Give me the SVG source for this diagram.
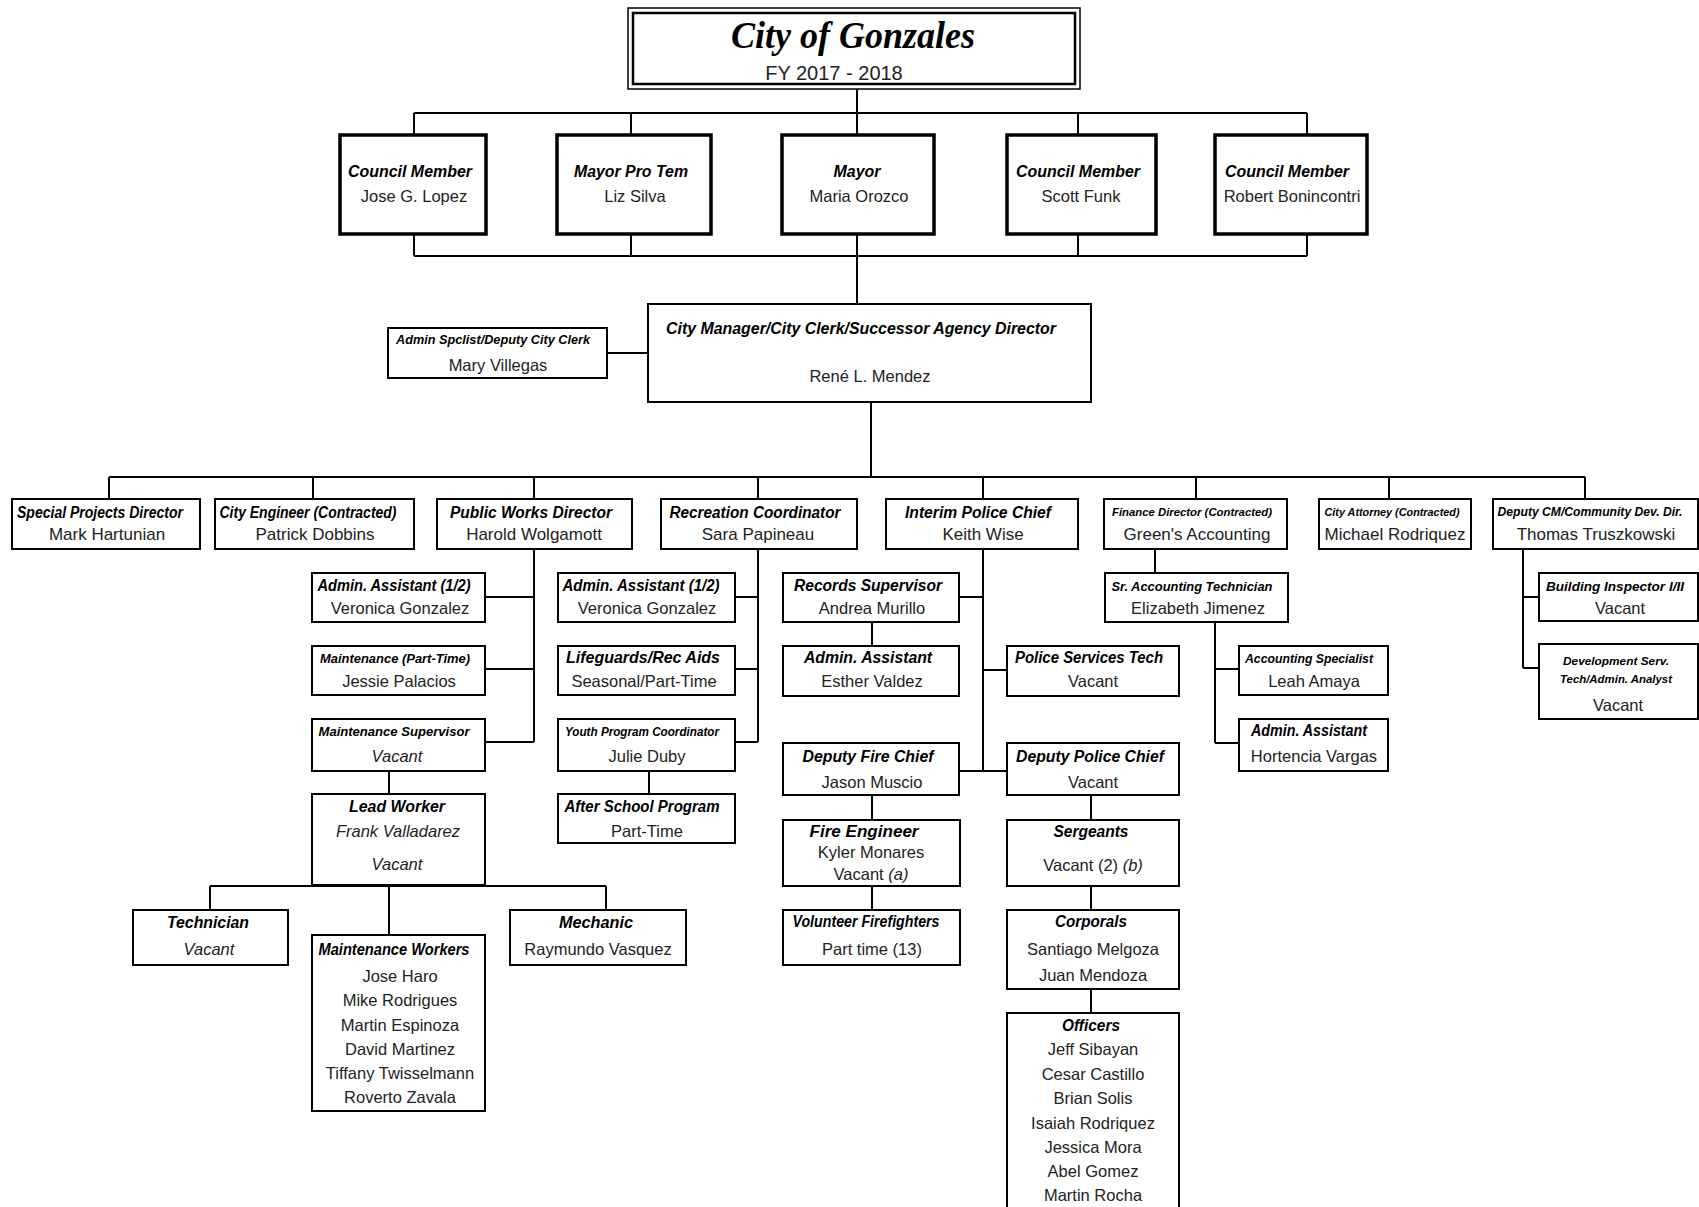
<svg xmlns="http://www.w3.org/2000/svg" width="1699" height="1207" viewBox="0 0 1699 1207">
<style>
.b{fill:#fff;stroke:#000;stroke-width:2}
.bk{fill:#fff;stroke:#000;stroke-width:3.5}
.t{font-family:"Liberation Sans",Arial,sans-serif;font-weight:bold;font-style:italic;font-size:16px;text-anchor:middle;fill:#000}
.s{font-size:12.5px}
.xs{font-size:11px}
.n{font-family:"Liberation Sans",Arial,sans-serif;font-size:16.5px;text-anchor:middle;fill:#222}
.r2{font-size:17px}
.i{font-style:italic}
#connectors path{stroke:#000;stroke-width:2;fill:none}
</style>
<rect width="1699" height="1207" fill="#fff"/>
<g id="connectors">
<path d="M857 89V113M414 113H1307M414 113V135M631 113V135M857 113V135M1078 113V135M1307 113V135"/>
<path d="M414 234V256M631 234V256M857 234V304M1078 234V256M1307 234V256M414 256H1307"/>
<path d="M607 353H648M871 402V477M109 477H1585"/>
<path d="M109 477V499M313 477V499M534 477V499M758 477V499M983 477V499M1196 477V499M1389 477V499M1585 477V499"/>
<path d="M534 549V742M485 597H534M485 669H534M485 742H534M389 771V794M210 886H606M210 886V910M389 886V935M606 886V910"/>
<path d="M758 549V742M735 597H758M735 669H758M735 742H758M649 771V794"/>
<path d="M983 549V771M959 597H983M983 670H1007M959 771H1007M872 622V646M872 795V820M872 886V910M1091 795V820M1091 886V910M1091 989V1013"/>
<path d="M1155 549V573M1215 622V743M1215 669H1239M1215 743H1239"/>
<path d="M1523 549V668M1523 597H1539M1523 668H1539"/>
</g>
<g id="title">
<rect x="628" y="8" width="452" height="81" fill="#fff" stroke="#000" stroke-width="1.5"/>
<rect x="633" y="13" width="442" height="71" fill="none" stroke="#000" stroke-width="2.5"/>
<text x="853" y="48" font-family="Liberation Serif,serif" font-weight="bold" font-style="italic" font-size="38" text-anchor="middle" textLength="244" lengthAdjust="spacingAndGlyphs">City of Gonzales</text>
<text x="834" y="80" font-family="Liberation Sans,sans-serif" font-size="20" text-anchor="middle" fill="#222">FY 2017 - 2018</text>
</g>
<g id="council1"><rect class="bk" x="340" y="135" width="146" height="99"/><text class="t" x="410" y="177" textLength="124" lengthAdjust="spacingAndGlyphs">Council Member</text><text class="n" x="414" y="202">Jose G. Lopez</text></g>
<g id="mayorprotem"><rect class="bk" x="557" y="135" width="154" height="99"/><text class="t" x="631" y="177" textLength="114" lengthAdjust="spacingAndGlyphs">Mayor Pro Tem</text><text class="n" x="635" y="202">Liz Silva</text></g>
<g id="mayor"><rect class="bk" x="782" y="135" width="152" height="99"/><text class="t" x="857" y="177" textLength="47" lengthAdjust="spacingAndGlyphs">Mayor</text><text class="n" x="859" y="202">Maria Orozco</text></g>
<g id="council4"><rect class="bk" x="1007" y="135" width="149" height="99"/><text class="t" x="1078" y="177" textLength="124" lengthAdjust="spacingAndGlyphs">Council Member</text><text class="n" x="1081" y="202">Scott Funk</text></g>
<g id="council5"><rect class="bk" x="1215" y="135" width="152" height="99"/><text class="t" x="1287" y="177" textLength="124" lengthAdjust="spacingAndGlyphs">Council Member</text><text class="n" x="1292" y="202" font-size="17">Robert Bonincontri</text></g>
<g id="citymanager"><rect class="b" x="648" y="304" width="443" height="98"/><text class="t" x="861" y="334" textLength="390" lengthAdjust="spacingAndGlyphs">City Manager/City Clerk/Successor Agency Director</text><text class="n" x="870" y="382" font-size="18.5">René L. Mendez</text></g>
<g id="adminspclist"><rect class="b" x="388" y="328" width="219" height="50"/><text class="t s" x="493" y="344" textLength="194" lengthAdjust="spacingAndGlyphs">Admin Spclist/Deputy City Clerk</text><text class="n" x="498" y="371" font-size="17">Mary Villegas</text></g>
<g id="specialprojects"><rect class="b" x="12" y="499" width="188" height="50"/><text class="t" x="100" y="518" textLength="166" lengthAdjust="spacingAndGlyphs">Special Projects Director</text><text class="n r2" x="107" y="540">Mark Hartunian</text></g>
<g id="cityengineer"><rect class="b" x="215" y="499" width="199" height="50"/><text class="t" x="308" y="518" textLength="177" lengthAdjust="spacingAndGlyphs">City Engineer (Contracted)</text><text class="n r2" x="315" y="540">Patrick Dobbins</text></g>
<g id="publicworks"><rect class="b" x="437" y="499" width="195" height="50"/><text class="t" x="531" y="518" textLength="162" lengthAdjust="spacingAndGlyphs">Public Works Director</text><text class="n r2" x="534" y="540">Harold Wolgamott</text></g>
<g id="recreation"><rect class="b" x="661" y="499" width="196" height="50"/><text class="t" x="755" y="518" textLength="171" lengthAdjust="spacingAndGlyphs">Recreation Coordinator</text><text class="n r2" x="758" y="540">Sara Papineau</text></g>
<g id="policechief"><rect class="b" x="886" y="499" width="192" height="50"/><text class="t" x="978" y="518" textLength="146" lengthAdjust="spacingAndGlyphs">Interim Police Chief</text><text class="n r2" x="983" y="540">Keith Wise</text></g>
<g id="finance"><rect class="b" x="1104" y="499" width="183" height="50"/><text class="t xs" x="1192" y="516" textLength="160" lengthAdjust="spacingAndGlyphs">Finance Director (Contracted)</text><text class="n r2" x="1197" y="540">Green's Accounting</text></g>
<g id="attorney"><rect class="b" x="1319" y="499" width="152" height="50"/><text class="t xs" x="1392" y="516" textLength="135" lengthAdjust="spacingAndGlyphs">City Attorney (Contracted)</text><text class="n r2" x="1395" y="540">Michael Rodriquez</text></g>
<g id="deputycm"><rect class="b" x="1493" y="499" width="205" height="50"/><text class="t s" x="1590" y="516" textLength="185" lengthAdjust="spacingAndGlyphs">Deputy CM/Community Dev. Dir.</text><text class="n r2" x="1596" y="540">Thomas Truszkowski</text></g>
<g id="pw-admin"><rect class="b" x="312" y="573" width="173" height="49"/><text class="t" x="394" y="591" textLength="153" lengthAdjust="spacingAndGlyphs">Admin. Assistant (1/2)</text><text class="n" x="400" y="614">Veronica Gonzalez</text></g>
<g id="pw-maintpt"><rect class="b" x="312" y="646" width="173" height="49"/><text class="t s" x="395" y="663" textLength="150" lengthAdjust="spacingAndGlyphs">Maintenance (Part-Time)</text><text class="n" x="399" y="687">Jessie Palacios</text></g>
<g id="pw-maintsup"><rect class="b" x="312" y="719" width="173" height="52"/><text class="t s" x="394" y="736" font-size="13.5" textLength="151" lengthAdjust="spacingAndGlyphs">Maintenance Supervisor</text><text class="n i" x="397" y="762">Vacant</text></g>
<g id="pw-leadworker"><rect class="b" x="312" y="794" width="173" height="91"/><text class="t" x="397" y="812" textLength="96" lengthAdjust="spacingAndGlyphs">Lead Worker</text><text class="n i" x="398" y="837">Frank Valladarez</text><text class="n i" x="397" y="870">Vacant</text></g>
<g id="pw-technician"><rect class="b" x="133" y="910" width="155" height="55"/><text class="t" x="208" y="928" textLength="82" lengthAdjust="spacingAndGlyphs">Technician</text><text class="n i" x="209" y="955">Vacant</text></g>
<g id="pw-maintworkers"><rect class="b" x="312" y="935" width="173" height="176"/><text class="t" x="394" y="955" font-size="14" textLength="151" lengthAdjust="spacingAndGlyphs">Maintenance Workers</text><text class="n" x="400" y="982">Jose Haro</text><text class="n" x="400" y="1006">Mike Rodrigues</text><text class="n" x="400" y="1031">Martin Espinoza</text><text class="n" x="400" y="1055">David Martinez</text><text class="n" x="400" y="1079">Tiffany Twisselmann</text><text class="n" x="400" y="1103">Roverto Zavala</text></g>
<g id="pw-mechanic"><rect class="b" x="510" y="910" width="176" height="55"/><text class="t" x="596" y="928" textLength="74" lengthAdjust="spacingAndGlyphs">Mechanic</text><text class="n" x="598" y="955">Raymundo Vasquez</text></g>
<g id="rec-admin"><rect class="b" x="558" y="573" width="177" height="49"/><text class="t" x="641" y="591" textLength="157" lengthAdjust="spacingAndGlyphs">Admin. Assistant (1/2)</text><text class="n" x="647" y="614">Veronica Gonzalez</text></g>
<g id="rec-lifeguards"><rect class="b" x="558" y="646" width="177" height="49"/><text class="t" x="643" y="663" font-size="17" textLength="154" lengthAdjust="spacingAndGlyphs">Lifeguards/Rec Aids</text><text class="n" x="644" y="687">Seasonal/Part-Time</text></g>
<g id="rec-youth"><rect class="b" x="558" y="719" width="177" height="52"/><text class="t s" x="642" y="736" textLength="154" lengthAdjust="spacingAndGlyphs">Youth Program Coordinator</text><text class="n" x="647" y="762">Julie Duby</text></g>
<g id="rec-afterschool"><rect class="b" x="558" y="794" width="177" height="49"/><text class="t" x="642" y="812" textLength="155" lengthAdjust="spacingAndGlyphs">After School Program</text><text class="n" x="647" y="837">Part-Time</text></g>
<g id="pd-records"><rect class="b" x="783" y="573" width="176" height="49"/><text class="t" x="868" y="591" textLength="148" lengthAdjust="spacingAndGlyphs">Records Supervisor</text><text class="n" x="872" y="614">Andrea Murillo</text></g>
<g id="pd-admin"><rect class="b" x="783" y="646" width="176" height="50"/><text class="t" x="868" y="663" textLength="128" lengthAdjust="spacingAndGlyphs">Admin. Assistant</text><text class="n" x="872" y="687">Esther Valdez</text></g>
<g id="pd-servicestech"><rect class="b" x="1007" y="646" width="172" height="50"/><text class="t" x="1089" y="663" textLength="148" lengthAdjust="spacingAndGlyphs">Police Services Tech</text><text class="n" x="1093" y="687">Vacant</text></g>
<g id="fd-deputy"><rect class="b" x="783" y="743" width="176" height="52"/><text class="t" x="868" y="762" textLength="131" lengthAdjust="spacingAndGlyphs">Deputy Fire Chief</text><text class="n" x="872" y="788">Jason Muscio</text></g>
<g id="pd-deputy"><rect class="b" x="1007" y="743" width="172" height="52"/><text class="t" x="1090" y="762" textLength="148" lengthAdjust="spacingAndGlyphs">Deputy Police Chief</text><text class="n" x="1093" y="788">Vacant</text></g>
<g id="fd-engineer"><rect class="b" x="783" y="820" width="177" height="66"/><text class="t" x="864" y="837" textLength="109" lengthAdjust="spacingAndGlyphs">Fire Engineer</text><text class="n" x="871" y="858">Kyler Monares</text><text class="n" x="871" y="880">Vacant <tspan class="i">(a)</tspan></text></g>
<g id="fd-volunteers"><rect class="b" x="783" y="910" width="177" height="55"/><text class="t" x="866" y="927" font-size="15" textLength="147" lengthAdjust="spacingAndGlyphs">Volunteer Firefighters</text><text class="n" x="872" y="955">Part time (13)</text></g>
<g id="pd-sergeants"><rect class="b" x="1007" y="820" width="172" height="66"/><text class="t" x="1091" y="837" textLength="75" lengthAdjust="spacingAndGlyphs">Sergeants</text><text class="n" x="1093" y="871">Vacant (2) <tspan class="i">(b)</tspan></text></g>
<g id="pd-corporals"><rect class="b" x="1007" y="910" width="172" height="79"/><text class="t" x="1091" y="927" textLength="72" lengthAdjust="spacingAndGlyphs">Corporals</text><text class="n" x="1093" y="955">Santiago Melgoza</text><text class="n" x="1093" y="981">Juan Mendoza</text></g>
<g id="pd-officers"><rect class="b" x="1007" y="1013" width="172" height="210"/><text class="t" x="1091" y="1031" textLength="58" lengthAdjust="spacingAndGlyphs">Officers</text><text class="n" x="1093" y="1055">Jeff Sibayan</text><text class="n" x="1093" y="1080">Cesar Castillo</text><text class="n" x="1093" y="1104">Brian Solis</text><text class="n" x="1093" y="1129">Isaiah Rodriquez</text><text class="n" x="1093" y="1153">Jessica Mora</text><text class="n" x="1093" y="1177">Abel Gomez</text><text class="n" x="1093" y="1201">Martin Rocha</text></g>
<g id="fin-sracct"><rect class="b" x="1105" y="573" width="183" height="49"/><text class="t s" x="1192" y="591" textLength="161" lengthAdjust="spacingAndGlyphs">Sr. Accounting Technician</text><text class="n" x="1198" y="614">Elizabeth Jimenez</text></g>
<g id="fin-acctspec"><rect class="b" x="1239" y="646" width="149" height="49"/><text class="t s" x="1309" y="663" textLength="128" lengthAdjust="spacingAndGlyphs">Accounting Specialist</text><text class="n" x="1314" y="687">Leah Amaya</text></g>
<g id="fin-admin"><rect class="b" x="1239" y="719" width="149" height="52"/><text class="t" x="1309" y="736" textLength="116" lengthAdjust="spacingAndGlyphs">Admin. Assistant</text><text class="n" x="1314" y="762">Hortencia Vargas</text></g>
<g id="cd-buildinginspector"><rect class="b" x="1539" y="573" width="159" height="48"/><text class="t s" x="1615" y="591" font-size="13.5" textLength="138" lengthAdjust="spacingAndGlyphs">Building Inspector I/II</text><text class="n" x="1620" y="614">Vacant</text></g>
<g id="cd-devserv"><rect class="b" x="1539" y="644" width="159" height="75"/><text class="t xs" x="1616" y="665" textLength="106" lengthAdjust="spacingAndGlyphs">Development Serv.</text><text class="t xs" x="1616" y="683" textLength="112" lengthAdjust="spacingAndGlyphs">Tech/Admin. Analyst</text><text class="n" x="1618" y="711">Vacant</text></g>
</svg>
